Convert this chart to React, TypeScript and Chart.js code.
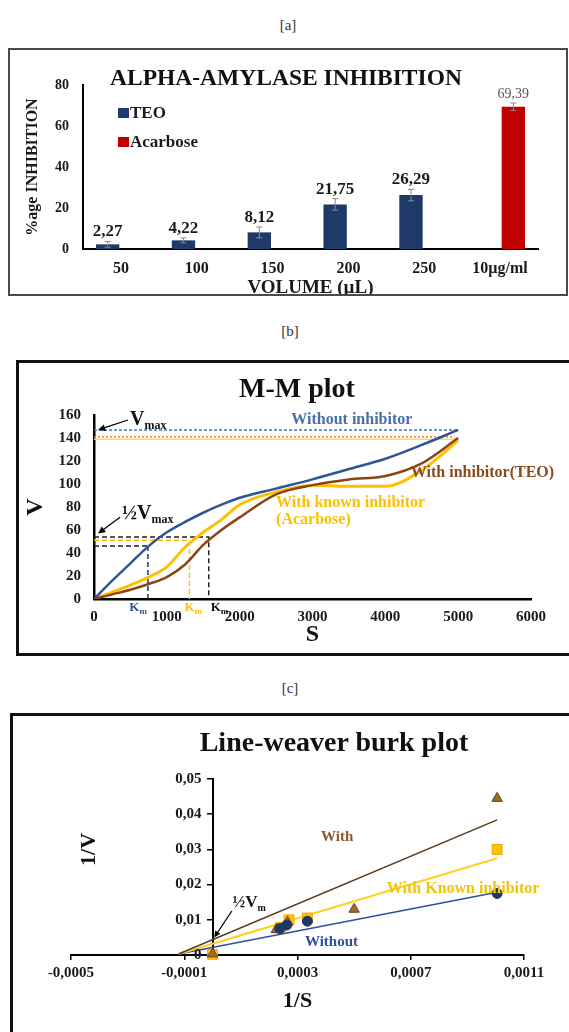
import React, { useEffect, useRef } from 'react';
import { Chart, registerables } from 'chart.js';

Chart.register(...registerables);

const SERIF = '"Liberation Serif", "Times New Roman", Times, serif';

// ---------- [a] ALPHA-AMYLASE INHIBITION ----------
const volumeLabels = ['50', '100', '150', '200', '250', '10µg/ml'];
const teoInhibition = [2.27, 4.22, 8.12, 21.75, 26.29, null];
const acarboseInhibition = [null, null, null, null, null, 69.39];
const teoErrors = [1.4, 1.2, 2.6, 2.8, 2.8, null];
const acarboseErrors = [null, null, null, null, null, 1.8];
const inhibitionTicks = [0, 20, 40, 60, 80];

// ---------- [b] M-M plot ----------
const substrate = [0, 250, 500, 750, 1000, 1250, 1500, 1750, 2000, 2500, 3000, 3500, 4000, 4500, 5000];
const velocityWithout = [0, 16, 31, 46, 58, 67, 75, 82, 88, 96, 104, 113, 122, 134, 147];
const velocityTEO = [0, 4, 8, 13, 19, 30, 47, 60, 71, 91, 99, 104, 107, 118, 140];
const velocityAcarbose = [0, 6, 12, 19, 28, 45, 58, 69, 82, 93, 99, 98, 98, 112, 138];
// order: without, TEO, acarbose
const vmaxLevels = [147, 141, 139];
const halfVmaxLevels = [46, 54, 51];
const kmValues = [740, 1575, 1310];
const mmXTicks = [0, 1000, 2000, 3000, 4000, 5000, 6000];
const mmYTicks = [0, 20, 40, 60, 80, 100, 120, 140, 160];

// ---------- [c] Line-weaver burk plot ----------
const lbInvSWithout = [0.001005, 0.000335, 0.000262, 0.000238];
const lbInvVWithout = [0.0175, 0.0096, 0.0085, 0.0075];
const lbInvSTEO = [0.001005, 0.0005, 0.000265, 0.000225, 0];
const lbInvVTEO = [0.0445, 0.013, 0.0093, 0.0072, 0.0003];
const lbInvSAcarbose = [0.001005, 0.000335, 0.00027, 0.00024, 0];
const lbInvVAcarbose = [0.03, 0.0105, 0.01, 0.0078, 0.0002];
const trendInvS = [-0.00012, 0.001005];
const trendWithout = [0.0003, 0.0178];
const trendAcarbose = [0.0003, 0.0275];
const trendTEO = [0.0003, 0.0384];
const lbXTicks = [-0.0005, -0.0001, 0.0003, 0.0007, 0.0011];
const lbYTicks = [0, 0.01, 0.02, 0.03, 0.04, 0.05];

const pts = (xs: number[], ys: number[]) => xs.map((x, i) => ({ x, y: ys[i] }));

function drawSub(ctx: any, main: string, sub: string, x: number, y: number, size: number, subSize: number, color: string, align = 'left', bold = true) {
  ctx.save();
  ctx.fillStyle = color;
  ctx.textBaseline = 'alphabetic';
  ctx.textAlign = 'left';
  const mf = `${bold ? 'bold ' : ''}${size}px ${SERIF}`;
  const sf = `${bold ? 'bold ' : ''}${subSize}px ${SERIF}`;
  ctx.font = mf;
  const w1 = ctx.measureText(main).width;
  ctx.font = sf;
  const w2 = ctx.measureText(sub).width;
  const sx = align === 'left' ? x : align === 'center' ? x - (w1 + w2) / 2 : x - w1 - w2;
  ctx.font = mf;
  ctx.fillText(main, sx, y);
  ctx.font = sf;
  ctx.fillText(sub, sx + w1, y + size * 0.2);
  ctx.restore();
}

function drawArrow(ctx: any, x1: number, y1: number, x2: number, y2: number, head = 7, color = '#000', width = 1.3) {
  const ang = Math.atan2(y2 - y1, x2 - x1);
  ctx.save();
  ctx.strokeStyle = color;
  ctx.fillStyle = color;
  ctx.lineWidth = width;
  ctx.beginPath();
  ctx.moveTo(x1, y1);
  ctx.lineTo(x2 - head * 0.8 * Math.cos(ang), y2 - head * 0.8 * Math.sin(ang));
  ctx.stroke();
  ctx.beginPath();
  ctx.moveTo(x2, y2);
  ctx.lineTo(x2 - head * Math.cos(ang - 0.45), y2 - head * Math.sin(ang - 0.45));
  ctx.lineTo(x2 - head * Math.cos(ang + 0.45), y2 - head * Math.sin(ang + 0.45));
  ctx.closePath();
  ctx.fill();
  ctx.restore();
}

function drawText(ctx: any, text: string, x: number, y: number, font: string, color: string, align = 'center', baseline = 'middle') {
  ctx.save();
  ctx.font = font;
  ctx.fillStyle = color;
  ctx.textAlign = align;
  ctx.textBaseline = baseline;
  ctx.fillText(text, x, y);
  ctx.restore();
}

function fixedTicks(values: number[]) {
  return (scale: any) => {
    scale.ticks = values.map((value) => ({ value }));
  };
}

const commaFmt = (v: number, digits: number) => (v === 0 ? '0' : v.toFixed(digits).replace('.', ','));

// ---------- configs ----------
function makeBarConfig(): any {
  const barExtras = {
    id: 'barExtras',
    afterDatasetsDraw(chart: any) {
      const ctx = chart.ctx;
      const ys = chart.scales.y;
      const errs = [teoErrors, acarboseErrors];
      chart.data.datasets.forEach((ds: any, di: number) => {
        const meta = chart.getDatasetMeta(di);
        meta.data.forEach((bar: any, i: number) => {
          const v = ds.data[i];
          if (v == null) return;
          const e = errs[di][i] || 0;
          const x = bar.x;
          const yTop = ys.getPixelForValue(v + e);
          const yBot = ys.getPixelForValue(v - e);
          ctx.save();
          ctx.strokeStyle = '#8a8a8a';
          ctx.lineWidth = 1;
          ctx.beginPath();
          ctx.moveTo(x, yTop);
          ctx.lineTo(x, yBot);
          ctx.moveTo(x - 3, yTop);
          ctx.lineTo(x + 3, yTop);
          ctx.moveTo(x - 3, yBot);
          ctx.lineTo(x + 3, yBot);
          ctx.stroke();
          ctx.restore();
          const label = commaFmt(v, 2);
          if (di === 0) drawText(ctx, label, x, yTop - 1, `bold 17px ${SERIF}`, '#1a1a1a', 'center', 'bottom');
          else drawText(ctx, label, x, yTop - 2, `14px ${SERIF}`, '#555', 'center', 'bottom');
        });
      });
      const ca = chart.chartArea;
      chart.data.datasets.forEach((ds: any, di: number) => {
        const lx = ca.left + 35;
        const ly = ca.top + 28 + di * 29;
        ctx.save();
        ctx.fillStyle = ds.backgroundColor;
        ctx.fillRect(lx, ly - 5, 11, 10);
        ctx.restore();
        drawText(ctx, ds.label, lx + 12, ly + 1, `bold 17px ${SERIF}`, '#1a1a1a', 'left', 'middle');
      });
    },
  };
  return {
    type: 'bar',
    data: {
      labels: volumeLabels,
      datasets: [
        { label: 'TEO', data: teoInhibition, backgroundColor: '#1F3A68', categoryPercentage: 0.7, barPercentage: 0.88 },
        { label: 'Acarbose', data: acarboseInhibition, backgroundColor: '#C00000', categoryPercentage: 0.7, barPercentage: 0.88 },
      ],
    },
    options: {
      responsive: false,
      animation: false,
      layout: { padding: { top: 35, right: 28, left: 0, bottom: 0 } },
      plugins: { legend: { display: false }, title: { display: false }, tooltip: { enabled: false } },
      scales: {
        x: {
          grid: { display: false, drawTicks: false },
          border: { display: true, color: '#000', width: 2 },
          ticks: { color: '#1a1a1a', font: { family: SERIF, size: 16, weight: 'bold' }, padding: 10 },
          title: { display: true, text: 'VOLUME (µL)', color: '#1a1a1a', font: { family: SERIF, size: 19, weight: 'bold', lineHeight: 0.6 }, padding: { top: 0, bottom: 0 } },
          afterFit: (s: any) => { s.height = 45; },
        },
        y: {
          min: 0,
          max: 80,
          grid: { display: false, drawTicks: false },
          border: { display: true, color: '#000', width: 2 },
          afterBuildTicks: fixedTicks(inhibitionTicks),
          ticks: { color: '#1a1a1a', font: { family: SERIF, size: 14, weight: 'bold' }, padding: 14 },
          title: { display: true, text: '%age INHIBITION', color: '#1a1a1a', font: { family: SERIF, size: 16, weight: 'bold' }, padding: { top: 13, bottom: 0 } },
          afterFit: (s: any) => { s.width = 73; },
        },
      },
    },
    plugins: [barExtras],
  };
}

function makeMMConfig(): any {
  const mmExtras = {
    id: 'mmExtras',
    afterDatasetsDraw(chart: any) {
      const ctx = chart.ctx;
      const xs = chart.scales.x;
      const ys = chart.scales.y;
      const x0 = xs.getPixelForValue(0);
      // Vmax annotation
      drawSub(ctx, 'V', 'max', x0 + 36, ys.getPixelForValue(160) + 10, 20, 12, '#111');
      drawArrow(ctx, x0 + 34, ys.getPixelForValue(160) + 5, x0 + 4, ys.getPixelForValue(vmaxLevels[0]), 8);
      // half Vmax annotation
      drawSub(ctx, '½V', 'max', x0 + 28, ys.getPixelForValue(75) + 6, 20, 12, '#111');
      drawArrow(ctx, x0 + 26, ys.getPixelForValue(71), x0 + 4, ys.getPixelForValue(57), 8);
      // Km labels
      const yK = ys.getPixelForValue(0) + 12;
      drawSub(ctx, 'K', 'm', xs.getPixelForValue(kmValues[0]) - 1, yK, 13, 9, '#2F5597', 'right');
      drawSub(ctx, 'K', 'm', xs.getPixelForValue(kmValues[2]) + 4, yK, 13, 9, '#FFC000', 'center');
      drawSub(ctx, 'K', 'm', xs.getPixelForValue(kmValues[1]) + 2, yK, 13, 9, '#111', 'left');
      // curve labels
      const f = `bold 16px ${SERIF}`;
      drawText(ctx, 'Without inhibitor', xs.getPixelForValue(3540), ys.getPixelForValue(155.5), f, '#4A6FA5');
      drawText(ctx, 'With inhibitor(TEO)', xs.getPixelForValue(5334), ys.getPixelForValue(110), f, '#8B4A1C');
      drawText(ctx, 'With known inhibitor', xs.getPixelForValue(2500), ys.getPixelForValue(83.5), f, '#FFC000', 'left');
      drawText(ctx, '(Acarbose)', xs.getPixelForValue(2500), ys.getPixelForValue(68.5), f, '#FFC000', 'left');
    },
  };
  const line = (data: any, color: string, width: number, dash: number[] = [], smooth = false) => ({
    data,
    borderColor: color,
    backgroundColor: color,
    borderWidth: width,
    borderDash: dash,
    pointRadius: 0,
    fill: false,
    cubicInterpolationMode: smooth ? 'monotone' : 'default',
    tension: 0,
  });
  return {
    type: 'line',
    data: {
      datasets: [
        { label: 'Without inhibitor', ...line(pts(substrate, velocityWithout), '#2F5597', 2.5, [], true) },
        { label: 'With inhibitor(TEO)', ...line(pts(substrate, velocityTEO), '#8B4513', 2.5, [], true) },
        { label: 'With known inhibitor (Acarbose)', ...line(pts(substrate, velocityAcarbose), '#FFC000', 3, [], true) },
        line([{ x: 0, y: vmaxLevels[0] }, { x: 5000, y: vmaxLevels[0] }], '#4472C4', 1.5, [3, 2]),
        line([{ x: 0, y: vmaxLevels[1] }, { x: 4950, y: vmaxLevels[1] }], '#ED7D31', 1.5, [2, 2]),
        line([{ x: 0, y: vmaxLevels[2] }, { x: 4950, y: vmaxLevels[2] }], '#FFD966', 1.5),
        line([{ x: 0, y: halfVmaxLevels[1] }, { x: kmValues[1], y: halfVmaxLevels[1] }, { x: kmValues[1], y: 0 }], '#222', 1.5, [5, 3]),
        line([{ x: 0, y: halfVmaxLevels[2] }, { x: kmValues[2], y: halfVmaxLevels[2] }, { x: kmValues[2], y: 0 }], '#FFC000', 1.5, [5, 3]),
        line([{ x: 0, y: halfVmaxLevels[0] }, { x: kmValues[0], y: halfVmaxLevels[0] }], '#222', 1.5, [5, 3]),
        line([{ x: kmValues[0], y: halfVmaxLevels[0] }, { x: kmValues[0], y: 0 }], '#1F3864', 1.5, [5, 3]),
      ],
    },
    options: {
      responsive: false,
      animation: false,
      layout: { padding: { top: 52, right: 38, left: 0, bottom: 0 } },
      plugins: { legend: { display: false }, title: { display: false }, tooltip: { enabled: false } },
      scales: {
        x: {
          type: 'linear',
          min: 0,
          max: 6000,
          grid: { display: false, drawTicks: false },
          border: { display: true, color: '#000', width: 2.5 },
          afterBuildTicks: fixedTicks(mmXTicks),
          ticks: { color: '#1a1a1a', font: { family: SERIF, size: 15, weight: 'bold' }, padding: 9, callback: (v: any) => String(v) },
          title: { display: true, text: 'S', color: '#111', font: { family: SERIF, size: 24, weight: 'bold' }, padding: { top: 0, bottom: 4 } },
          afterFit: (s: any) => { s.height = 54; },
        },
        y: {
          type: 'linear',
          min: 0,
          max: 160,
          grid: { display: false, drawTicks: false },
          border: { display: true, color: '#000', width: 2.5 },
          afterBuildTicks: fixedTicks(mmYTicks),
          ticks: { color: '#1a1a1a', font: { family: SERIF, size: 15, weight: 'bold' }, padding: 13, callback: (v: any) => String(v) },
          title: { display: true, text: 'V', color: '#111', font: { family: SERIF, size: 24, weight: 'bold' }, padding: { top: 2, bottom: 0 } },
          afterFit: (s: any) => { s.width = 75; },
        },
      },
    },
    plugins: [mmExtras],
  };
}

function makeLBConfig(): any {
  const lbExtras = {
    id: 'lbExtras',
    afterDatasetsDraw(chart: any) {
      const ctx = chart.ctx;
      const xs = chart.scales.x;
      const ys = chart.scales.y;
      const ca = chart.chartArea;
      // y tick labels of the axis that crosses at 1/S = 0
      const axisX = xs.getPixelForValue(0);
      ys.ticks.forEach((t: any) => {
        drawText(ctx, commaFmt(t.value, 2), axisX - 11, ys.getPixelForValue(t.value), `bold 15px ${SERIF}`, '#1a1a1a', 'right', 'middle');
      });
      ctx.save();
      ctx.translate(ca.left + 18, ys.getPixelForValue(0.03));
      ctx.rotate(-Math.PI / 2);
      drawText(ctx, '1/V', 0, 0, `bold 22px ${SERIF}`, '#111');
      ctx.restore();
      drawText(ctx, 'With', xs.getPixelForValue(0.00044), ys.getPixelForValue(0.0335), `bold 15px ${SERIF}`, '#8B5A2B');
      drawText(ctx, 'With Known inhibitor', xs.getPixelForValue(0.000885), ys.getPixelForValue(0.0188), `bold 16px ${SERIF}`, '#F2C500');
      drawText(ctx, 'Without', xs.getPixelForValue(0.00042), ys.getPixelForValue(0.0037), `bold 15px ${SERIF}`, '#2F4F9F');
      drawSub(ctx, '½V', 'm', xs.getPixelForValue(0.00007), ys.getPixelForValue(0.0135), 17, 10, '#111');
      drawArrow(ctx, xs.getPixelForValue(0.000068), ys.getPixelForValue(0.0125), xs.getPixelForValue(0.000006), ys.getPixelForValue(0.005), 7);
    },
  };
  const scatter = (label: string, data: any, style: string, fill: string, border: string, r: number) => ({
    label,
    data,
    pointStyle: style,
    pointRadius: r,
    backgroundColor: fill,
    borderColor: border,
    pointBorderWidth: 1,
    showLine: false,
    clip: false,
  });
  const trend = (data: any, color: string, width: number) => ({
    data,
    showLine: true,
    borderColor: color,
    borderWidth: width,
    pointRadius: 0,
    fill: false,
  });
  return {
    type: 'scatter',
    data: {
      datasets: [
        scatter('Without', pts(lbInvSWithout, lbInvVWithout), 'circle', '#1F3864', '#1F3864', 5),
        scatter('With', pts(lbInvSTEO, lbInvVTEO), 'triangle', '#9C6B30', '#6B4010', 6),
        scatter('With Known inhibitor', pts(lbInvSAcarbose, lbInvVAcarbose), 'rect', '#FFC000', '#F0A800', 7),
        trend(pts(trendInvS, trendTEO), '#5C3A1E', 1.5),
        trend(pts(trendInvS, trendAcarbose), '#FFD21F', 2),
        trend(pts(trendInvS, trendWithout), '#2F4F9F', 1.5),
      ],
    },
    options: {
      responsive: false,
      animation: false,
      layout: { padding: { top: 63, right: 45, left: 58, bottom: 0 } },
      plugins: { legend: { display: false }, title: { display: false }, tooltip: { enabled: false } },
      scales: {
        x: {
          type: 'linear',
          min: -0.0005,
          max: 0.0011,
          grid: { display: true, drawOnChartArea: false, drawTicks: true, tickLength: 5, tickColor: '#000', lineWidth: 1.5 },
          border: { display: true, color: '#000', width: 2 },
          afterBuildTicks: fixedTicks(lbXTicks),
          ticks: { color: '#1a1a1a', font: { family: SERIF, size: 15, weight: 'bold' }, padding: 4, callback: (v: any) => commaFmt(Number(v), 4) },
          title: { display: true, text: '1/S', color: '#111', font: { family: SERIF, size: 22, weight: 'bold' }, padding: { top: 0, bottom: 17 } },
          afterFit: (s: any) => { s.height = 77; },
        },
        y: {
          type: 'linear',
          position: { x: 0 },
          min: 0,
          max: 0.05,
          grid: { display: true, drawOnChartArea: false, drawTicks: true, tickLength: 5, tickColor: '#000', lineWidth: 1.5 },
          border: { display: true, color: '#000', width: 2 },
          afterBuildTicks: fixedTicks(lbYTicks),
          ticks: { display: false },
        },
      },
    },
    plugins: [lbExtras],
  };
}

function ChartCanvas({ left, top, width, height, make }: any) {
  const ref = useRef<HTMLCanvasElement>(null);
  useEffect(() => {
    const chart = new Chart(ref.current as HTMLCanvasElement, make());
    return () => chart.destroy();
  }, []);
  return <canvas ref={ref} width={width} height={height} style={{ position: 'absolute', left, top, width, height }} />;
}

function Txt({ x, y, size, bold, color = '#111', children }: any) {
  return (
    <div
      style={{
        position: 'absolute',
        left: x - 300,
        width: 600,
        top: y - size * 0.6,
        height: size * 1.2,
        lineHeight: `${size * 1.2}px`,
        fontSize: size,
        fontWeight: bold ? 'bold' : 'normal',
        textAlign: 'center',
        color,
        fontFamily: SERIF,
        whiteSpace: 'nowrap',
      }}
    >
      {children}
    </div>
  );
}

export default function App() {
  return (
    <div style={{ position: 'absolute', left: 0, top: 0, width: 569, height: 1032, overflow: 'hidden', background: '#fff', fontFamily: SERIF }}>
      <div style={{ position: 'absolute', left: 8, top: 48, width: 560, height: 248, border: '2px solid #4a4a4a', boxSizing: 'border-box' }} />
      <div style={{ position: 'absolute', left: 16, top: 360, width: 600, height: 296, border: '3px solid #111', boxSizing: 'border-box' }} />
      <div style={{ position: 'absolute', left: 10, top: 713, width: 600, height: 400, border: '3px solid #111', boxSizing: 'border-box' }} />

      <ChartCanvas left={10} top={50} width={556} height={244} make={makeBarConfig} />
      <ChartCanvas left={19} top={363} width={550} height={290} make={makeMMConfig} />
      <ChartCanvas left={13} top={716} width={556} height={316} make={makeLBConfig} />

      <Txt x={288} y={25} size={15} color="#333">[a]</Txt>
      <Txt x={290} y={331} size={15} color="#333">[b]</Txt>
      <Txt x={290} y={688} size={15} color="#333">[c]</Txt>
      <Txt x={286} y={77} size={23.5} bold>ALPHA-AMYLASE INHIBITION</Txt>
      <Txt x={297} y={388} size={28} bold>M-M plot</Txt>
      <Txt x={334} y={742} size={28} bold>Line-weaver burk plot</Txt>
    </div>
  );
}
